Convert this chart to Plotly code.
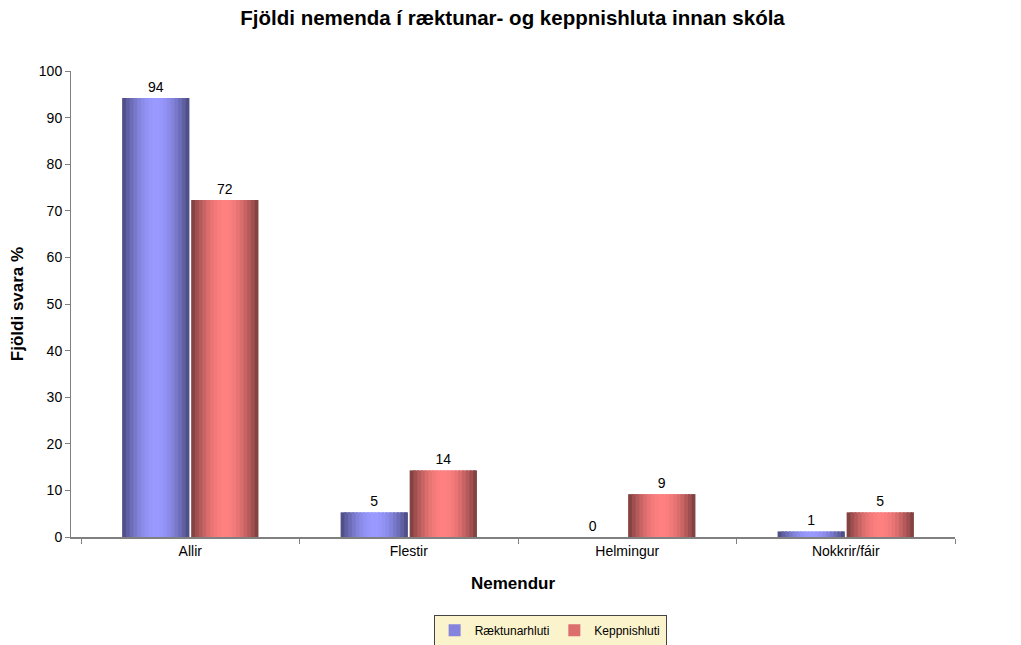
import plotly.graph_objects as go
import math

categories = ["Allir", "Flestir", "Helmingur", "Nokkrir/fáir"]
raektun = [94.2, 5.3, 0.0, 1.2]
keppni = [72.3, 14.3, 9.2, 5.3]
series_names = ["Ræktunarhluti", "Keppnishluti"]
y_ticks = [0, 10, 20, 30, 40, 50, 60, 70, 80, 90, 100]

FONT = "Liberation Sans, Arial, sans-serif"

def mix(c1, c2, f):
    return "rgb(%d,%d,%d)" % tuple(round(a + (b - a) * f) for a, b in zip(c1, c2))

styles = [
    {"dark": (70, 70, 122), "light": (153, 153, 255), "start": -0.312},
    {"dark": (118, 58, 58), "light": (255, 128, 128), "start": 0.004},
]
bar_w = 0.308
N = 18

fig = go.Figure()
for vals, name, st in zip([raektun, keppni], series_names, styles):
    w = bar_w / N
    for k in range(N):
        t = (k + 0.5) / N
        f = math.sin(math.pi * t) ** 0.9
        col = mix(st["dark"], st["light"], f)
        last = (k == N - 1)
        fig.add_trace(go.Bar(
            x=categories, y=vals, name=name,
            offset=st["start"] + k * w, width=w if last else w * 1.6,
            marker=dict(color=col, line=dict(width=0)),
            showlegend=False, legendgroup=name,
            hoverinfo="skip",
        ))
    fig.add_trace(go.Bar(
        x=[None], y=[None], name=name, legendgroup=name,
        marker=dict(color=mix(st["dark"], st["light"], 0.75), line=dict(width=0)),
        showlegend=True,
    ))
    fig.add_trace(go.Bar(
        x=categories, y=vals, offset=st["start"], width=bar_w,
        marker=dict(color="rgba(0,0,0,0)", line=dict(width=0)),
        texttemplate="%{y:.0f}", textposition="outside",
        textfont=dict(family=FONT, size=14, color="black"),
        cliponaxis=False, showlegend=False, legendgroup=name,
    ))

fig.update_layout(
    width=1021, height=645,
    barmode="overlay",
    plot_bgcolor="white", paper_bgcolor="white",
    margin=dict(l=71, r=66, t=71, b=108, autoexpand=False),
    title=dict(text="<b>Fjöldi nemenda í ræktunar- og keppnishluta innan skóla</b>",
               x=0.502, xref="container", xanchor="center", y=0.972, yanchor="middle",
               font=dict(family=FONT, size=20.5, color="black")),
    font=dict(family=FONT, size=14, color="black"),
    showlegend=True,
    legend=dict(orientation="h", x=0.542, xanchor="center", y=-0.2, yanchor="middle",
                bgcolor="#fbf3cc", bordercolor="#444444", borderwidth=1,
                font=dict(family=FONT, size=12, color="black"),
                itemwidth=30, traceorder="normal", tracegroupgap=0),
)
fig.update_xaxes(
    type="category", categoryorder="array", categoryarray=categories,
    range=[-0.546, 3.5],
    showline=True, linecolor="#808080", linewidth=1.5,
    ticks="outside", tickson="boundaries", ticklen=5, tickcolor="#808080",
    showgrid=False, zeroline=False,
    tickfont=dict(family=FONT, size=14, color="black"),
    title=dict(text="<b>Nemendur</b>", font=dict(family=FONT, size=17, color="black"), standoff=20),
)
fig.update_yaxes(
    range=[0, 100], tickvals=y_ticks,
    showline=True, linecolor="#808080", linewidth=1,
    ticks="outside", ticklen=5, tickcolor="#808080",
    showgrid=False, zeroline=False,
    tickfont=dict(family=FONT, size=14, color="black"),
    title=dict(text="<b>Fjöldi svara %</b>", font=dict(family=FONT, size=17, color="black"), standoff=10),
)

fig.write_html("out.html", post_script="document.body.style.margin='0';",
               config={"displayModeBar": False})
